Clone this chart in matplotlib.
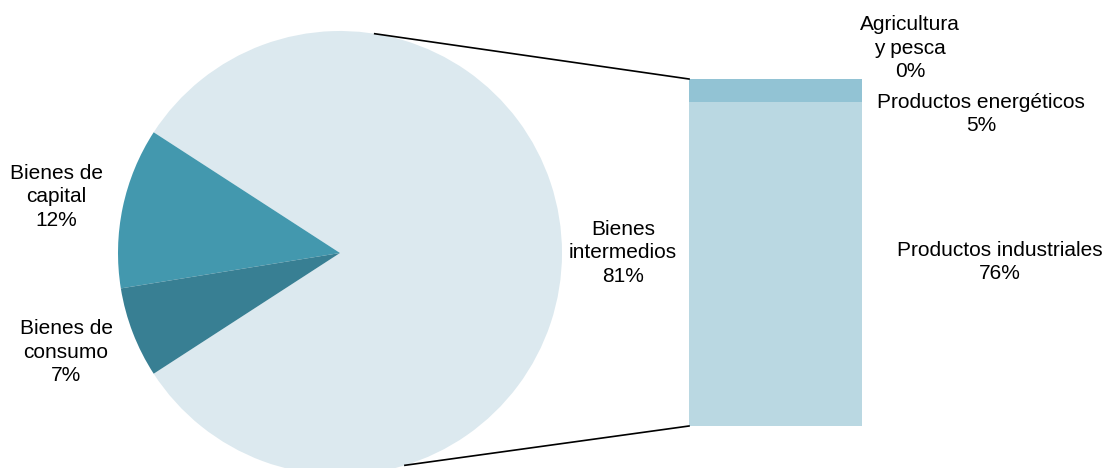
import numpy as np
import matplotlib.pyplot as plt

plt.rcParams['font.family'] = ['Liberation Sans', 'DejaVu Sans']

# pie data
pie_names = ['Bienes\nintermedios', 'Bienes de\ncapital', 'Bienes de\nconsumo']
pie_values = [81.7, 11.7, 6.6]
pie_pct = ['81%', '12%', '7%']
pie_colors = ['#dce9ef', '#4398ae', '#387f93']

# bar data (breakdown of Bienes intermedios), bottom to top
bar_names = ['Productos industriales', 'Productos energéticos', 'Agricultura\ny pesca']
bar_values = [76.3, 5.3, 0.1]
bar_pct = ['76%', '5%', '0%']
bar_colors = ['#bad8e2', '#92c3d4', '#6aaec3']

W, H = 1107, 468
fig = plt.figure(figsize=(W / 100, H / 100), dpi=100)
ax = fig.add_axes([0, 0, 1, 1])

cx, cy, r = 340, 215, 222
start = -pie_values[0] * 360 / 100 / 2
ax.pie(pie_values, colors=pie_colors, startangle=start, center=(cx, cy), radius=r,
       wedgeprops=dict(linewidth=0), frame=True)
ax.set_xlim(0, W)
ax.set_ylim(0, H)
ax.set_aspect('equal')
ax.axis('off')

# stacked bar, scaled so it spans bar_bot..bar_top
bar_x, bar_w = 775.5, 173
bar_bot, bar_top = 42, 389
scale = (bar_top - bar_bot) / sum(bar_values)
bottom = bar_bot
for v, c in zip(bar_values, bar_colors):
    ax.bar(bar_x, v * scale, width=bar_w, bottom=bottom, color=c, linewidth=0)
    bottom += v * scale

# connector lines
for ang, by in [(81, bar_top), (-73, bar_bot)]:
    px = cx + r * np.cos(np.radians(ang))
    py = cy + r * np.sin(np.radians(ang))
    ax.plot([px, bar_x - bar_w / 2], [py, by], color='black', lw=1.2)

kw = dict(ha='center', va='center', fontsize=15, linespacing=1.33)
ax.text(623, H - 253, pie_names[0] + '\n' + pie_pct[0], **kw)
ax.text(56, H - 197, pie_names[1] + '\n' + pie_pct[1], **kw)
ax.text(66, H - 352, pie_names[2] + '\n' + pie_pct[2], **kw)
ax.text(1000, H - 262, bar_names[0] + '\n' + bar_pct[0], **kw)
ax.text(981, H - 114, bar_names[1] + '\n' + bar_pct[1], **kw)
ax.text(910, H - 48, bar_names[2] + '\n' + bar_pct[2], **kw)

fig.savefig('out.png', dpi=100)
